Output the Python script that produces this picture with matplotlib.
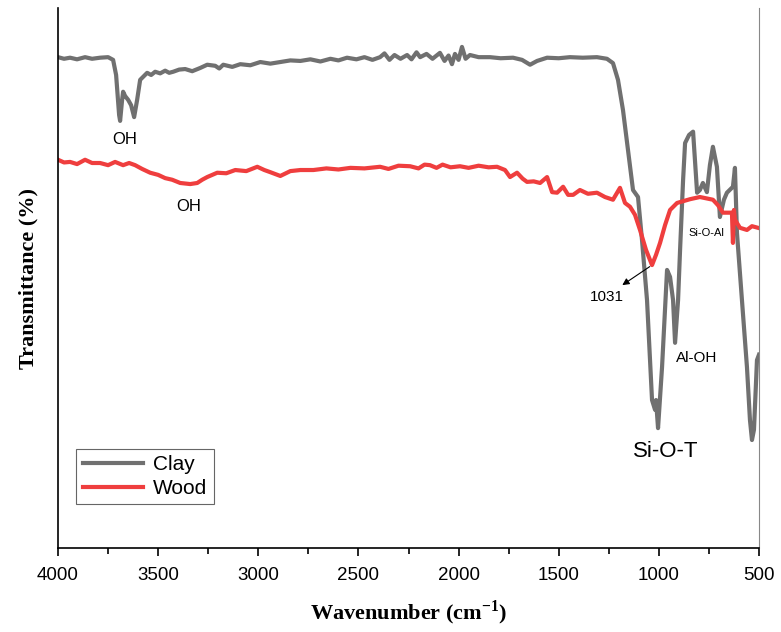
import numpy as np
import matplotlib.pyplot as plt
from matplotlib.ticker import MultipleLocator

plt.rcParams['mathtext.fontset'] = 'custom'
plt.rcParams['mathtext.rm'] = 'Liberation Serif:bold'
plt.rcParams['mathtext.bf'] = 'Liberation Serif:bold'

# FTIR spectra (transmittance, arbitrary scale 0-100)
clay_wn = [4000, 3970, 3940, 3905, 3865, 3830, 3790, 3750, 3725, 3710, 3695, 3690,
           3680, 3675, 3665, 3650, 3635, 3620, 3605, 3590, 3555, 3535, 3515, 3490,
           3465, 3445, 3425, 3395, 3365, 3330, 3290, 3255, 3215, 3195, 3175, 3130,
           3090, 3040, 2990, 2940, 2890, 2840, 2790, 2740, 2690, 2640, 2600, 2557,
           2510, 2470, 2430, 2392, 2370, 2345, 2320, 2290, 2257, 2235, 2210, 2192,
           2160, 2130, 2093, 2070, 2050, 2033, 2018, 2000, 1983, 1965, 1943, 1900,
           1843, 1790, 1728, 1683, 1643, 1608, 1558, 1500, 1444, 1380, 1309, 1259,
           1229, 1204, 1179, 1154, 1129, 1104, 1084, 1059, 1034, 1019, 1014, 1004,
           984, 959, 944, 929, 919, 904, 894, 879, 869, 849, 829, 809, 795, 780,
           760, 745, 730, 710, 695, 675, 660, 630, 620, 610, 585, 560, 545, 535,
           525, 510, 500]
clay_t = [90.9, 90.6, 90.8, 90.5, 90.9, 90.6, 90.8, 90.9, 90.4, 87.6, 80.2, 79.1,
          83.0, 84.5, 83.7, 83.0, 82.0, 79.8, 83.0, 86.7, 88.0, 87.6, 88.2, 87.9,
          88.4, 88.0, 88.2, 88.6, 88.7, 88.3, 88.9, 89.5, 89.3, 88.8, 89.5, 89.1,
          89.6, 89.4, 90.0, 89.7, 90.0, 90.3, 90.2, 90.5, 90.1, 90.6, 90.3, 90.8,
          90.5, 90.9, 90.4, 90.9, 91.6, 90.4, 91.3, 90.6, 91.3, 90.5, 91.8, 90.9,
          91.5, 90.6, 91.7, 90.2, 91.2, 89.6, 91.5, 90.4, 92.8, 90.6, 91.3, 90.9,
          90.9, 90.7, 90.8, 90.4, 89.5, 90.2, 90.8, 90.7, 90.9, 90.8, 90.9, 90.6,
          89.8, 86.7, 81.1, 73.7, 66.3, 65.0, 57.0, 45.9, 27.4, 25.6, 27.4, 22.2,
          33.5, 51.5, 50.2, 45.9, 38.0, 45.9, 55.2, 68.1, 75.0, 76.5, 77.1, 65.8,
          66.3, 67.6, 65.9, 70.9, 74.3, 70.6, 61.3, 64.5, 65.8, 66.9, 70.4, 58.4,
          45.9, 33.5, 23.7, 20.0, 21.9, 34.8, 35.8]

wood_wn = [4000, 3970, 3940, 3905, 3865, 3830, 3790, 3750, 3715, 3675, 3645, 3615,
           3580, 3540, 3500, 3465, 3430, 3390, 3340, 3305, 3280, 3255, 3230, 3205,
           3160, 3115, 3060, 3005, 2970, 2940, 2890, 2840, 2790, 2725, 2660, 2600,
           2540, 2470, 2392, 2350, 2300, 2242, 2200, 2170, 2143, 2110, 2080, 2040,
           1993, 1950, 1900, 1850, 1808, 1768, 1743, 1708, 1680, 1658, 1625, 1593,
           1558, 1533, 1508, 1478, 1453, 1428, 1394, 1354, 1309, 1269, 1229, 1194,
           1169, 1144, 1119, 1094, 1064, 1034, 1014, 994, 969, 944, 909, 844, 795,
           730, 705, 680, 635, 630, 625, 620, 595, 560, 535, 505]
wood_t = [71.9, 71.4, 71.5, 71.1, 71.9, 71.3, 71.3, 70.9, 71.5, 70.9, 71.3, 70.9,
          70.2, 69.5, 69.1, 68.5, 68.2, 67.6, 67.4, 67.6, 68.2, 68.7, 69.1, 69.5,
          69.4, 70.0, 69.8, 70.6, 70.0, 69.6, 68.9, 69.8, 70.0, 70.0, 70.3, 70.1,
          70.4, 70.3, 70.6, 70.2, 70.8, 70.7, 70.3, 71.0, 70.9, 70.4, 71.0, 70.5,
          70.7, 70.4, 70.8, 70.5, 70.6, 70.0, 68.7, 69.5, 68.4, 67.8, 67.9, 67.6,
          68.7, 65.9, 65.8, 66.9, 65.4, 65.4, 66.3, 65.6, 65.8, 65.0, 64.5, 66.7,
          63.9, 63.2, 61.7, 58.9, 55.2, 52.4, 54.3, 56.5, 59.8, 62.6, 63.9, 64.6,
          65.0, 64.5, 63.5, 62.1, 62.1, 56.5, 62.6, 60.8, 59.3, 58.9, 59.6, 59.3]

fig = plt.figure(figsize=(7.81, 6.32), dpi=100)
ax = fig.add_axes([0.0743, 0.1329, 0.8975, 0.8544])

ax.plot(clay_wn, clay_t, color='#707070', lw=3, label='Clay')
ax.plot(wood_wn, wood_t, color='#ef3e3e', lw=3, label='Wood')

ax.set_xlim(4000, 500)
ax.set_ylim(0, 100)
ax.xaxis.set_major_locator(MultipleLocator(500))
ax.xaxis.set_minor_locator(MultipleLocator(250))
ax.set_yticks([])
ax.tick_params(axis='x', which='major', length=6, width=1.2, direction='out', labelsize=13.5, pad=8)
ax.tick_params(axis='x', which='minor', length=4, width=1.2, direction='out')
for lbl in ax.get_xticklabels():
    lbl.set_family('Liberation Sans')

ax.spines['top'].set_visible(False)
ax.spines['right'].set_color('#888888')
ax.spines['right'].set_linewidth(0.8)
ax.spines['left'].set_linewidth(1.2)
ax.spines['bottom'].set_linewidth(1.2)

ax.set_xlabel(r'Wavenumber (cm$^{\mathbf{-1}}$)', family='Liberation Serif', fontweight='bold', fontsize=16, labelpad=10)
ax.set_ylabel('Transmittance (%)', family='Liberation Serif', fontweight='bold', fontsize=16, labelpad=14)

sans = 'Liberation Sans'
ax.text(3665, 75.6, 'OH', family=sans, fontsize=12, ha='center', va='center')
ax.text(3346, 63.2, 'OH', family=sans, fontsize=12, ha='center', va='center')
ax.text(964, 17.8, 'Si-O-T', family=sans, fontsize=16, ha='center', va='center')
ax.text(810, 35.2, 'Al-OH', family=sans, fontsize=11, ha='center', va='center')
ax.text(760, 58.4, 'Si-O-Al', family=sans, fontsize=8, ha='center', va='center')
ax.annotate('', xy=(1194, 48.4), xytext=(1034, 52.4),
            arrowprops=dict(arrowstyle='-|>', color='black', lw=0.8, mutation_scale=10))
ax.text(1259, 46.5, '1031', family=sans, fontsize=11, ha='center', va='center')

leg = ax.legend(loc='lower left', bbox_to_anchor=(0.026, 0.081), prop={'family': sans, 'size': 15},
                handlelength=2.9, fancybox=False, edgecolor='#666666', framealpha=1,
                borderpad=0.3, handletextpad=0.5, labelspacing=0.25, borderaxespad=0)
leg.get_frame().set_linewidth(0.8)

fig.savefig('out.png', dpi=100)
